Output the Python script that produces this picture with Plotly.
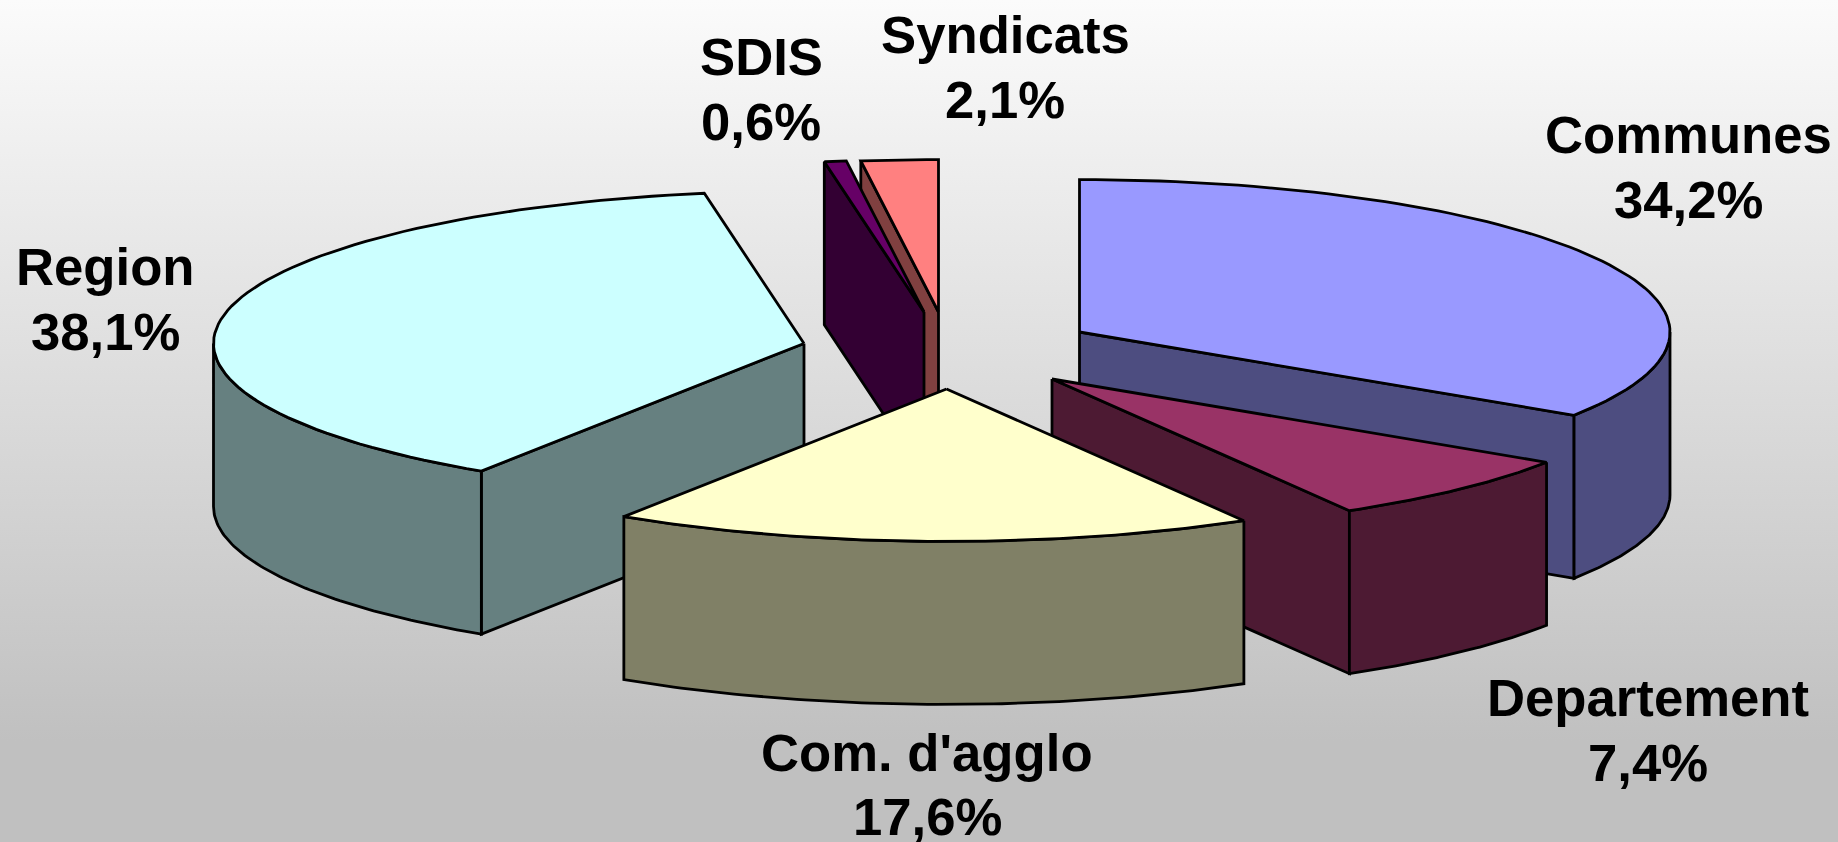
import base64
import numpy as np
import plotly.graph_objects as go

# Data
names = ["Communes", "Departement", "Com. d'agglo", "Region", "SDIS", "Syndicats"]
shares = [34.2, 7.4, 17.6, 38.1, 0.6, 2.1]

# Styling
top_colors = ["#9999FF", "#993366", "#FFFFCC", "#CCFFFF", "#660066", "#FF8080"]
side_colors = ["#4D4D80", "#4D1A33", "#808066", "#668080", "#330033", "#804040"]
apex_x = [1079.5, 1052, 946.5, 804, 924, 938.5]
apex_y = [332, 379, 389, 343.5, 312, 312]
label_x = [1688, 1648, 927, 105, 761, 1005]
label_y1 = [134, 697, 752, 266, 56, 34]
label_y2 = [199, 762, 816, 331, 121, 99]
draw_order = [5, 4, 3, 0, 1, 2]

W, H = 1838, 842
RX, RY, DEPTH = 590.5, 152.4, 163
LINE_W = 2.8
FONT = dict(family="Liberation Sans, Arial, sans-serif", size=52.7, color="black")

# Slice angles (clockwise from the top of the ellipse) come from the shares
ends = np.cumsum(shares) / sum(shares) * 360
starts = np.concatenate([[0], ends[:-1]])


def arc(cx, cy, a0, a1, n=80):
    t = np.radians(np.linspace(a0, a1, n))
    return cx + RX * np.sin(t), cy - RY * np.cos(t)


fig = go.Figure()


def poly(xs, ys, color):
    fig.add_trace(go.Scatter(
        x=np.append(xs, xs[0]), y=np.append(ys, ys[0]), mode="lines", fill="toself",
        fillcolor=color, line=dict(color="black", width=LINE_W),
        hoverinfo="skip", showlegend=False))


def cut_face(cx, cy, ang, color):
    px, py = arc(cx, cy, ang, ang, 1)
    poly(np.array([cx, px[0], px[0], cx]),
         np.array([cy, py[0], py[0] + DEPTH, cy + DEPTH]), color)


for i in draw_order:
    cx, cy = apex_x[i], apex_y[i]
    a0, a1 = starts[i], ends[i]
    side = side_colors[i]
    if 180 < a0 < 360:
        cut_face(cx, cy, a0, side)
    if 0 < a1 < 180:
        cut_face(cx, cy, a1, side)
    w0, w1 = max(a0, 90), min(a1, 270)
    if w1 > w0:
        ax, ay = arc(cx, cy, w0, w1)
        poly(np.concatenate([ax, ax[::-1]]), np.concatenate([ay, ay[::-1] + DEPTH]), side)
    ax, ay = arc(cx, cy, a0, a1)
    poly(np.concatenate([[cx], ax]), np.concatenate([[cy], ay]), top_colors[i])

for i, name in enumerate(names):
    pct = f"{shares[i]:.1f}".replace(".", ",") + "%"
    for text, y in ((name, label_y1[i]), (pct, label_y2[i])):
        fig.add_annotation(x=label_x[i], y=y, text=f"<b>{text}</b>", showarrow=False,
                           xanchor="center", yanchor="middle", font=FONT)

svg = (f'<svg xmlns="http://www.w3.org/2000/svg" width="{W}" height="{H}" preserveAspectRatio="none">'
       '<defs><linearGradient id="g" x1="0" y1="0" x2="0" y2="1">'
       '<stop offset="0" stop-color="#FBFBFB"/><stop offset="0.88" stop-color="#C0C0C0"/>'
       '<stop offset="1" stop-color="#C0C0C0"/>'
       f'</linearGradient></defs><rect width="{W}" height="{H}" fill="url(#g)"/></svg>')
bg = "data:image/svg+xml;base64," + base64.b64encode(svg.encode()).decode()

fig.update_layout(
    width=W, height=H, margin=dict(l=0, r=0, t=0, b=0),
    paper_bgcolor="#DDDDDD", plot_bgcolor="rgba(0,0,0,0)",
    xaxis=dict(range=[0, W], visible=False, fixedrange=True),
    yaxis=dict(range=[H, 0], visible=False, fixedrange=True),
    images=[dict(source=bg, xref="paper", yref="paper", x=0, y=1, sizex=1, sizey=1,
                 xanchor="left", yanchor="top", sizing="stretch", layer="below")],
)
fig.write_html("out.html", config={"displayModeBar": False},
               post_script="document.body.style.margin='0';document.documentElement.style.overflow='hidden';")
